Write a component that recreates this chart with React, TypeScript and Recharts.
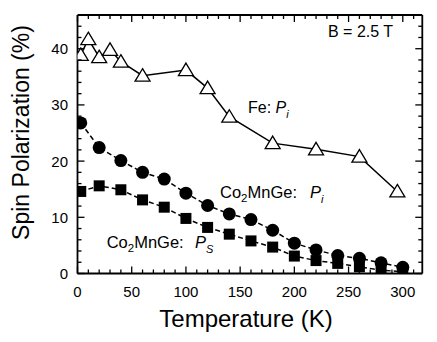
import { ScatterChart, Scatter, XAxis, YAxis } from "recharts";

const FONT = "'Liberation Sans', Arial, Helvetica, sans-serif";

// temperatures (K) and spin polarization (%)
const feTemp = [3, 10, 20, 30, 40, 60, 100, 120, 140, 180, 220, 260, 295];
const fePi = [38.9, 41.7, 38.5, 39.8, 37.7, 35.2, 36.2, 33.0, 27.9, 23.2, 22.1, 20.8, 14.6];

const cmgTemp = [3, 20, 40, 60, 80, 100, 120, 140, 160, 180, 200, 220, 240, 260, 280, 300];
const cmgPi = [26.8, 22.4, 20.1, 18.0, 16.8, 14.3, 12.1, 10.6, 9.6, 7.7, 5.4, 4.2, 3.2, 2.7, 1.9, 1.1];
const cmgPs = [14.6, 15.6, 14.9, 13.1, 11.8, 9.8, 8.2, 7.0, 5.8, 4.7, 3.1, 2.3, 1.8, 1.2, 0.6, 0.3];

const xTicks = [0, 10, 20, 30, 40, 50, 60, 70, 80, 90, 100, 110, 120, 130, 140, 150, 160, 170, 180, 190, 200, 210, 220, 230, 240, 250, 260, 270, 280, 290, 300, 310];
const yTicks = [0, 2, 4, 6, 8, 10, 12, 14, 16, 18, 20, 22, 24, 26, 28, 30, 32, 34, 36, 38, 40, 42, 44];

const X_DOMAIN: [number, number] = [0, 318];
const Y_DOMAIN: [number, number] = [0, 46];

const feData = feTemp.map((t, i) => ({ t, p: fePi[i] }));
const piData = cmgTemp.map((t, i) => ({ t, p: cmgPi[i] }));
const psData = cmgTemp.map((t, i) => ({ t, p: cmgPs[i] }));

const tickLen = (major: boolean) => (major ? 7 : 4);

function BottomTick(props: any) {
  const { x, y, payload } = props;
  const major = payload.value % 50 === 0;
  return (
    <g>
      <line x1={x} y1={y} x2={x} y2={y - tickLen(major)} stroke="#000" strokeWidth={1.3} />
      {major && (
        <text x={x} y={y + 23.5} textAnchor="middle" fontSize={15} fontFamily={FONT} fill="#000">
          {payload.value}
        </text>
      )}
    </g>
  );
}

function TopTick(props: any) {
  const { x, y, payload } = props;
  const major = payload.value % 50 === 0;
  return <line x1={x} y1={y} x2={x} y2={y + tickLen(major)} stroke="#000" strokeWidth={1.3} />;
}

function LeftTick(props: any) {
  const { x, y, payload } = props;
  const major = payload.value % 10 === 0;
  return (
    <g>
      <line x1={x} y1={y} x2={x + tickLen(major)} y2={y} stroke="#000" strokeWidth={1.3} />
      {major && (
        <text x={x - 9.5} y={y + 5.4} textAnchor="end" fontSize={15} fontFamily={FONT} fill="#000">
          {payload.value}
        </text>
      )}
    </g>
  );
}

function RightTick(props: any) {
  const { x, y, payload } = props;
  const major = payload.value % 10 === 0;
  return <line x1={x} y1={y} x2={x - tickLen(major)} y2={y} stroke="#000" strokeWidth={1.3} />;
}

const triangle = (p: any) => (
  <path
    d={`M${p.cx},${p.cy - 7} L${p.cx + 7.5},${p.cy + 5.5} L${p.cx - 7.5},${p.cy + 5.5} Z`}
    fill="#fff"
    stroke="#000"
    strokeWidth={1.3}
  />
);
const dot = (p: any) => <circle cx={p.cx} cy={p.cy} r={6.5} fill="#000" />;
const square = (p: any) => <rect x={p.cx - 5.5} y={p.cy - 5.5} width={11} height={11} fill="#000" />;
const nothing = () => <g />;

export default function App() {
  return (
    <div style={{ position: "absolute", left: 0, top: 0, width: 437, height: 342, background: "#fff" }}>
      <ScatterChart width={437} height={342} margin={{ top: 14, right: 13.7, left: 0, bottom: 0 }}>
        <XAxis
          xAxisId="b"
          dataKey="t"
          type="number"
          domain={X_DOMAIN}
          allowDataOverflow
          ticks={xTicks}
          interval={0}
          height={68.5}
          tickSize={0}
          tickMargin={0}
          tickLine={false}
          tick={<BottomTick />}
          axisLine={{ stroke: "#000", strokeWidth: 1.8 }}
        />
        <XAxis
          xAxisId="t"
          dataKey="t"
          orientation="top"
          type="number"
          domain={X_DOMAIN}
          allowDataOverflow
          ticks={xTicks}
          interval={0}
          height={1}
          tickSize={0}
          tickMargin={0}
          tickLine={false}
          tick={<TopTick />}
          axisLine={{ stroke: "#000", strokeWidth: 1.8 }}
        />
        <YAxis
          yAxisId="l"
          dataKey="p"
          type="number"
          domain={Y_DOMAIN}
          allowDataOverflow
          ticks={yTicks}
          interval={0}
          width={77.5}
          tickSize={0}
          tickMargin={0}
          tickLine={false}
          tick={<LeftTick />}
          axisLine={{ stroke: "#000", strokeWidth: 1.8 }}
        />
        <YAxis
          yAxisId="r"
          dataKey="p"
          orientation="right"
          type="number"
          domain={Y_DOMAIN}
          allowDataOverflow
          ticks={yTicks}
          interval={0}
          width={1}
          tickSize={0}
          tickMargin={0}
          tickLine={false}
          tick={<RightTick />}
          axisLine={{ stroke: "#000", strokeWidth: 1.8 }}
        />
        {/* invisible series so the mirrored top/right frame axes get drawn */}
        <Scatter xAxisId="t" yAxisId="r" data={feData} shape={nothing} isAnimationActive={false} />
        <Scatter
          xAxisId="b"
          yAxisId="l"
          data={feData}
          line={{ stroke: "#000", strokeWidth: 1.5 }}
          shape={triangle}
          isAnimationActive={false}
        />
        <Scatter
          xAxisId="b"
          yAxisId="l"
          data={psData}
          line={{ stroke: "#000", strokeWidth: 1.5, strokeDasharray: "5 3" }}
          shape={square}
          isAnimationActive={false}
        />
        <Scatter
          xAxisId="b"
          yAxisId="l"
          data={piData}
          line={{ stroke: "#000", strokeWidth: 1.5, strokeDasharray: "5 3" }}
          shape={dot}
          isAnimationActive={false}
        />
      </ScatterChart>
      <svg
        width={437}
        height={342}
        style={{ position: "absolute", left: 0, top: 0, pointerEvents: "none" }}
        fontFamily={FONT}
        fill="#000"
      >
        <text x={328} y={37} fontSize={16}>B = 2.5 T</text>
        <text x={248} y={113} fontSize={16}>
          Fe: <tspan fontStyle="italic">P</tspan>
          <tspan fontSize={11} dy={5} fontStyle="italic">i</tspan>
        </text>
        <text x={220} y={198} fontSize={16.5}>
          Co<tspan fontSize={11.5} dy={4}>2</tspan>
          <tspan dy={-4}>MnGe:</tspan>
          <tspan x={310} fontStyle="italic">P</tspan>
          <tspan fontSize={11} dy={5} fontStyle="italic">i</tspan>
        </text>
        <text x={106.7} y={248} fontSize={16.5}>
          Co<tspan fontSize={11.5} dy={4}>2</tspan>
          <tspan dy={-4}>MnGe:</tspan>
          <tspan x={195} fontStyle="italic">P</tspan>
          <tspan fontSize={11} dy={5} fontStyle="italic">S</tspan>
        </text>
        <text x={246} y={327} fontSize={24} textAnchor="middle">Temperature (K)</text>
        <text transform="translate(29,132.5) rotate(-90)" fontSize={23} textAnchor="middle">
          Spin Polarization (%)
        </text>
      </svg>
    </div>
  );
}
